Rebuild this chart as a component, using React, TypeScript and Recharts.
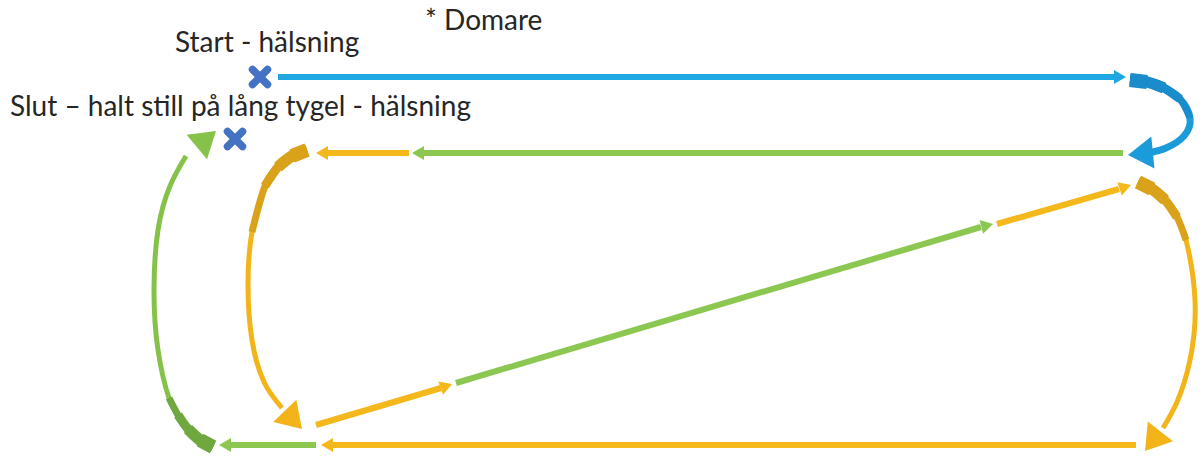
import React from 'react';
import { ScatterChart, Scatter, XAxis, YAxis } from 'recharts';

type Pt = { x: number; y: number };

// texts (x, baseline y)
const labels = [
  { x: 425, y: 30, text: '* Domare' },
  { x: 175, y: 52, text: 'Start - hälsning' },
  { x: 10, y: 116, text: 'Slut – halt still på lång tygel - hälsning' },
];

// start / end halt marks
const crosses: Pt[] = [
  { x: 260, y: 77 },
  { x: 235, y: 139 },
];

// straight legs, the last point of each is the arrow tip
const blueTop: Pt[] = [{ x: 278, y: 77 }, { x: 1114, y: 77 }, { x: 1126, y: 77 }];
const greenTop: Pt[] = [{ x: 1123, y: 153 }, { x: 424, y: 153 }, { x: 412, y: 153 }];
const orangeTop: Pt[] = [{ x: 409, y: 153 }, { x: 328, y: 153 }, { x: 316, y: 153 }];
const orangeDiag1: Pt[] = [{ x: 316, y: 425 }, { x: 441, y: 388 }, { x: 452, y: 384 }];
const greenDiag: Pt[] = [{ x: 456, y: 383 }, { x: 981, y: 227 }, { x: 993, y: 224 }];
const orangeDiag2: Pt[] = [{ x: 997, y: 224 }, { x: 1119, y: 189 }, { x: 1131, y: 185 }];
const orangeBottom: Pt[] = [{ x: 1136, y: 445 }, { x: 333, y: 445 }, { x: 321, y: 445 }];
const greenBottom: Pt[] = [{ x: 316, y: 445 }, { x: 231, y: 445 }, { x: 219, y: 445 }];

// curved turns, last point is the arrow tip
const blueArc: Pt[] = [
  { x: 1130, y: 80 }, { x: 1147, y: 82 }, { x: 1164, y: 88 }, { x: 1180, y: 99 },
  { x: 1190, y: 118 }, { x: 1184, y: 136 }, { x: 1166, y: 148 }, { x: 1148, y: 153 }, { x: 1128, y: 155 },
];
const orangeRightArc: Pt[] = [
  { x: 1138, y: 182 }, { x: 1152, y: 189 }, { x: 1165, y: 200 }, { x: 1177, y: 217 },
  { x: 1186, y: 240 }, { x: 1195, y: 300 }, { x: 1190, y: 360 }, { x: 1177, y: 402 },
  { x: 1163, y: 428 }, { x: 1145, y: 451 },
];
const orangeLeftArc: Pt[] = [
  { x: 307, y: 150 }, { x: 292, y: 156 }, { x: 278, y: 167 }, { x: 265, y: 186 },
  { x: 252, y: 232 }, { x: 248, y: 287 }, { x: 252, y: 340 }, { x: 264, y: 382 },
  { x: 282, y: 408 }, { x: 302, y: 429 },
];
const greenLeftArc: Pt[] = [
  { x: 213, y: 447 }, { x: 200, y: 440 }, { x: 188, y: 429 }, { x: 178, y: 415 },
  { x: 169, y: 398 }, { x: 158, y: 350 }, { x: 154, y: 290 }, { x: 158, y: 230 },
  { x: 170, y: 186 }, { x: 186, y: 156 }, { x: 216, y: 131 },
];

const none = () => <g />;

const head = (len: number, half: number, color: string) => (p: any) => {
  const { cx, cy, payload } = p;
  const a = (Math.atan2(payload.y - payload.fy, payload.x - payload.fx) * 180) / Math.PI;
  return (
    <polygon
      points={`0,0 ${-len},${-half} ${-len},${half}`}
      transform={`translate(${cx},${cy}) rotate(${a})`}
      fill={color}
    />
  );
};

function leg(key: string, pts: Pt[], color: string, width: number, big: boolean, curve: any = 'linear') {
  const body = pts.slice(0, -1);
  const tip = pts[pts.length - 1];
  const prev = body[body.length - 1];
  return [
    <Scatter
      key={key + 'l'}
      data={body}
      line={{ stroke: color, strokeWidth: width }}
      lineJointType={curve}
      shape={none}
      fill={color}
      isAnimationActive={false}
    />,
    <Scatter
      key={key + 'h'}
      data={[{ ...tip, fx: prev.x, fy: prev.y }]}
      shape={big ? head(25, 16, color) : head(12, 7, color)}
      isAnimationActive={false}
    />,
  ];
}

// tapering, thicker base of a curved arrow
function base(key: string, pts: Pt[], color: string) {
  const steps = [
    { n: 5, w: 7 },
    { n: 4, w: 9 },
    { n: 3, w: 11.5 },
    { n: 2, w: 14 },
  ];
  return steps.map((s) => (
    <Scatter
      key={key + s.n}
      data={pts.slice(0, s.n)}
      line={{ stroke: color, strokeWidth: s.w }}
      lineJointType="natural"
      shape={none}
      isAnimationActive={false}
    />
  ));
}

const cross = (p: any) => {
  const { cx, cy } = p;
  const r = 7.5;
  return (
    <g stroke="#4472C4" strokeWidth={7.5} strokeLinecap="round">
      <line x1={cx - r} y1={cy - r} x2={cx + r} y2={cy + r} />
      <line x1={cx - r} y1={cy + r} x2={cx + r} y2={cy - r} />
    </g>
  );
};

const label = (p: any) => (
  <text x={p.cx} y={p.cy} fontFamily="Lato" fontSize={28} fill="#262626">
    {p.payload.text}
  </text>
);

export default function App() {
  return (
    <div style={{ position: 'absolute', left: 0, top: 0, width: 1202, height: 460, background: '#fff' }}>
      <ScatterChart width={1202} height={460} margin={{ top: 0, right: 0, bottom: 0, left: 0 }}>
        <XAxis type="number" dataKey="x" domain={[0, 1202]} allowDataOverflow hide />
        <YAxis type="number" dataKey="y" domain={[0, 460]} allowDataOverflow reversed hide />
        {leg('bt', blueTop, '#1EA7E1', 6, false)}
        {leg('ba', blueArc, '#1B9BDA', 7, true, 'natural')}
        {base('bab', blueArc, '#1A8BCB')}
        {leg('gt', greenTop, '#8CC751', 6, false)}
        {leg('ot', orangeTop, '#F5B81C', 6, false)}
        {leg('ol', orangeLeftArc, '#F2B418', 5, true, 'natural')}
        {base('olb', orangeLeftArc, '#D9A21A')}
        {leg('od1', orangeDiag1, '#F5B81C', 6, false)}
        {leg('gd', greenDiag, '#8CC751', 6, false)}
        {leg('od2', orangeDiag2, '#F5B81C', 6, false)}
        {leg('or', orangeRightArc, '#F2B418', 5, true, 'natural')}
        {base('orb', orangeRightArc, '#D9A21A')}
        {leg('ob', orangeBottom, '#F5B81C', 6, false)}
        {leg('gb', greenBottom, '#8CC751', 6, false)}
        {leg('gl', greenLeftArc, '#86C24A', 5, true, 'natural')}
        {base('glb', greenLeftArc, '#6FA83E')}
        <Scatter data={crosses} shape={cross} isAnimationActive={false} />
        <Scatter data={labels} shape={label} isAnimationActive={false} />
      </ScatterChart>
    </div>
  );
}
